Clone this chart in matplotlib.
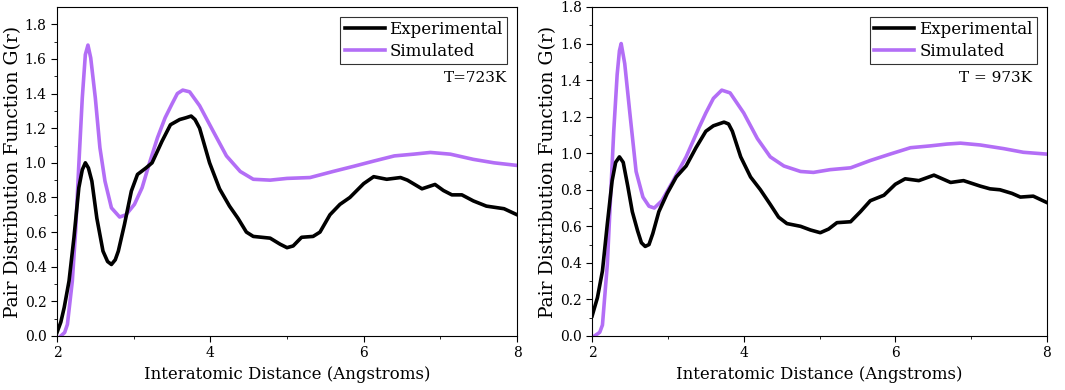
import matplotlib.pyplot as plt

plt.rcParams['font.family'] = ['DejaVu Serif']

# --- T = 723 K (left) ---
exp1_x = [2.0, 2.05, 2.094, 2.157, 2.221, 2.285, 2.33, 2.37, 2.41, 2.455, 2.52, 2.60, 2.66, 2.71,
          2.76, 2.80, 2.88, 2.97, 3.05, 3.16, 3.24, 3.37, 3.48, 3.6, 3.68, 3.75, 3.8, 3.86, 3.99,
          4.12, 4.25, 4.36, 4.47, 4.56, 4.78, 4.91, 5.0, 5.08, 5.19, 5.34, 5.43, 5.56, 5.69, 5.82,
          6.0, 6.13, 6.3, 6.48, 6.57, 6.76, 6.93, 7.04, 7.15, 7.28, 7.43, 7.6, 7.83, 8.0]
exp1_y = [0.02, 0.08, 0.164, 0.317, 0.567, 0.856, 0.96, 1.0, 0.97, 0.894, 0.68, 0.49, 0.43, 0.413,
          0.44, 0.49, 0.644, 0.837, 0.933, 0.97, 1.0, 1.125, 1.22, 1.25, 1.26, 1.27, 1.25, 1.2, 1.0,
          0.85, 0.75, 0.68, 0.6, 0.575, 0.565, 0.53, 0.51, 0.52, 0.57, 0.575, 0.6, 0.7, 0.76, 0.8,
          0.88, 0.92, 0.905, 0.915, 0.9, 0.85, 0.875, 0.84, 0.815, 0.815, 0.78, 0.75, 0.735, 0.70]
sim1_x = [2.05, 2.1, 2.136, 2.2, 2.243, 2.285, 2.33, 2.37, 2.404, 2.44, 2.5, 2.56, 2.626, 2.71,
          2.817, 2.90, 3.01, 3.11, 3.2, 3.31, 3.41, 3.5, 3.57, 3.64, 3.73, 3.86, 4.04, 4.21, 4.39,
          4.56, 4.78, 5.0, 5.3, 5.6, 5.87, 6.13, 6.4, 6.65, 6.87, 7.13, 7.43, 7.7, 8.0]
sim1_y = [0.0, 0.02, 0.067, 0.317, 0.606, 0.99, 1.375, 1.625, 1.68, 1.606, 1.375, 1.087, 0.894, 0.74,
          0.687, 0.70, 0.76, 0.856, 0.99, 1.144, 1.26, 1.34, 1.40, 1.42, 1.41, 1.33, 1.18, 1.04, 0.95,
          0.905, 0.9, 0.91, 0.915, 0.95, 0.98, 1.01, 1.04, 1.05, 1.06, 1.05, 1.02, 1.0, 0.985]

# --- T = 973 K (right) ---
exp2_x = [2.0, 2.07, 2.136, 2.2, 2.264, 2.31, 2.36, 2.41, 2.47, 2.53, 2.6, 2.65, 2.70, 2.75, 2.8,
          2.88, 2.99, 3.11, 3.24, 3.37, 3.5, 3.6, 3.74, 3.8, 3.85, 3.96, 4.09, 4.22, 4.35, 4.46,
          4.57, 4.75, 4.88, 5.01, 5.12, 5.23, 5.41, 5.54, 5.67, 5.85, 6.0, 6.13, 6.31, 6.51, 6.73,
          6.9, 7.12, 7.25, 7.38, 7.54, 7.65, 7.82, 8.0]
exp2_y = [0.11, 0.21, 0.356, 0.612, 0.85, 0.95, 0.98, 0.95, 0.82, 0.68, 0.575, 0.51, 0.49, 0.5, 0.56,
          0.68, 0.78, 0.87, 0.93, 1.03, 1.12, 1.15, 1.17, 1.16, 1.12, 0.98, 0.87, 0.8, 0.72, 0.65,
          0.615, 0.6, 0.58, 0.565, 0.585, 0.62, 0.625, 0.68, 0.74, 0.77, 0.83, 0.86, 0.85, 0.88, 0.84,
          0.85, 0.82, 0.805, 0.8, 0.78, 0.76, 0.765, 0.73]
sim2_x = [2.03, 2.1, 2.136, 2.2, 2.243, 2.285, 2.33, 2.36, 2.383, 2.43, 2.5, 2.58, 2.67, 2.75, 2.82,
          2.92, 3.07, 3.24, 3.41, 3.5, 3.6, 3.71, 3.82, 4.0, 4.18, 4.35, 4.53, 4.75, 4.92, 5.14,
          5.41, 5.67, 5.93, 6.2, 6.46, 6.68, 6.86, 7.12, 7.43, 7.69, 8.0]
sim2_y = [0.0, 0.02, 0.06, 0.39, 0.76, 1.12, 1.43, 1.56, 1.6, 1.49, 1.21, 0.9, 0.76, 0.71, 0.7,
          0.74, 0.85, 0.98, 1.14, 1.22, 1.3, 1.345, 1.33, 1.22, 1.08, 0.98, 0.93, 0.9, 0.895, 0.91,
          0.92, 0.96, 0.995, 1.03, 1.04, 1.05, 1.055, 1.045, 1.025, 1.005, 0.995]

panels = [
    (exp1_x, exp1_y, sim1_x, sim1_y, 'T=723K', 1.9, [0.0535, 0.1385, 0.432, 0.8436], 0.978),
    (exp2_x, exp2_y, sim2_x, sim2_y, 'T = 973K', 1.8, [0.556, 0.1385, 0.427, 0.8436], 0.967),
]

purple = '#b36ef6'
fig = plt.figure(figsize=(10.65, 3.9), dpi=100)

for ex, ey, sx, sy, label, ytop, pos, tx in panels:
    ax = fig.add_axes(pos)
    ax.plot(ex, ey, color='black', lw=2.6, label='Experimental', zorder=3)
    ax.plot(sx, sy, color=purple, lw=2.6, label='Simulated', zorder=2)
    ax.set_xlim(2, 8)
    ax.set_ylim(0, ytop)
    ax.set_xticks([2, 4, 6, 8])
    ax.set_xticks([3, 5, 7], minor=True)
    ax.set_yticks([0.0, 0.2, 0.4, 0.6, 0.8, 1.0, 1.2, 1.4, 1.6, 1.8])
    ax.set_yticks([0.1, 0.3, 0.5, 0.7, 0.9, 1.1, 1.3, 1.5, 1.7], minor=True)
    ax.yaxis.set_major_formatter(plt.FormatStrFormatter('%.1f'))
    ax.tick_params(which='major', length=4, labelsize=10)
    ax.tick_params(which='minor', length=2.5)
    ax.set_xlabel('Interatomic Distance (Angstroms)', fontsize=12)
    ax.set_ylabel('Pair Distribution Function G(r)', fontsize=13.5, labelpad=2)
    leg = ax.legend(loc='upper right', fontsize=12, frameon=True, fancybox=False,
                    edgecolor='black', handlelength=2.4, borderpad=0.25, labelspacing=0.3,
                    handletextpad=0.3, borderaxespad=0.6)
    leg.get_frame().set_linewidth(0.8)
    ax.text(tx, 0.784, label, transform=ax.transAxes, ha='right', va='center', fontsize=11)

fig.savefig('out.png', dpi=100)
